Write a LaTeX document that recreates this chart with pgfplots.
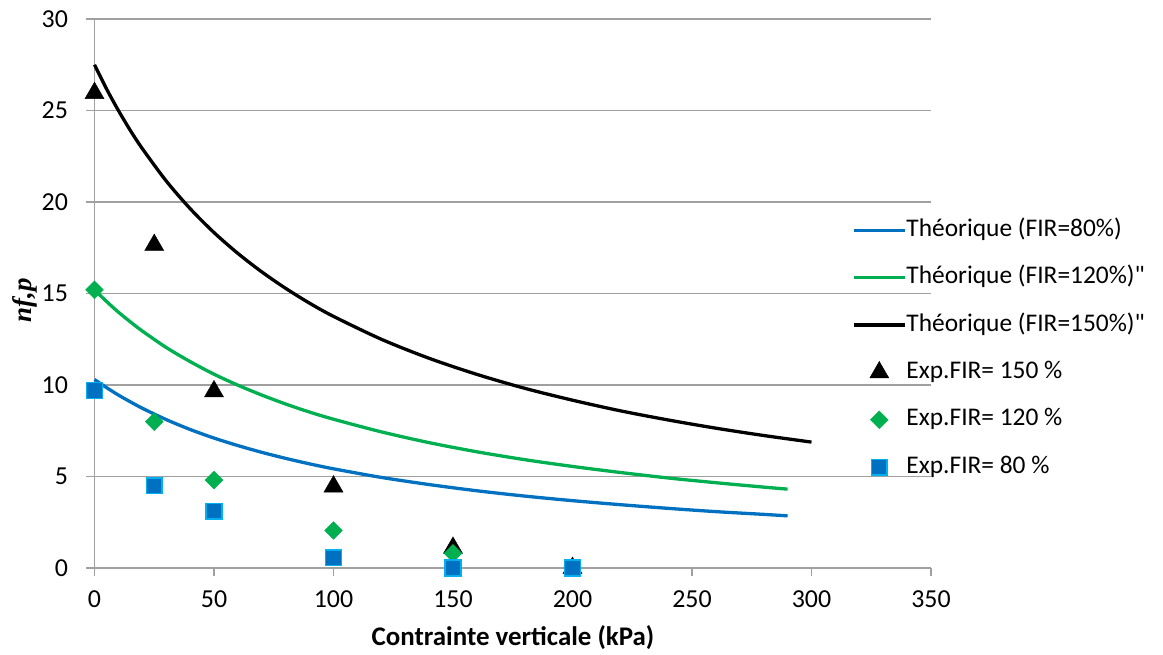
\documentclass[border=0pt]{standalone}
\usepackage{pgfplots}
\pgfplotsset{compat=1.18}
\usepackage{fontspec}
\setmainfont{Carlito}[Ligatures=TeXOff]
\newfontfamily\ylabfont{Liberation Serif}
\definecolor{cblue}{RGB}{0,112,192}
\definecolor{cgreen}{RGB}{0,176,80}
\definecolor{ccyan}{RGB}{0,176,240}
\definecolor{cgrid}{RGB}{160,160,160}
\pgfplotsset{
  lineleg/.style={legend image code/.code={\draw[##1] (0bp,0bp) -- (51bp,0bp);}},
  markleg/.style={legend image code/.code={\draw[mark repeat=1,mark phase=1,##1] plot coordinates {(25.5bp,0bp)};}},
}
\begin{document}
\begin{tikzpicture}
\path (0,0) rectangle (1163bp,655bp);
\begin{axis}[
  at={(94.5bp,87bp)}, anchor=south west,
  scale only axis, width=836.5bp, height=549bp,
  xmin=0, xmax=350, ymin=0, ymax=30,
  xtick={0,50,...,350}, ytick={0,5,...,30},
  axis x line=bottom, axis y line=left,
  x axis line style={-, draw=cgrid, line width=1.3bp},
  y axis line style={-, draw=cgrid, line width=1.3bp},
  ymajorgrids, grid style={draw=cgrid, line width=1.3bp},
  tick align=outside, major tick length=8bp,
  tick style={draw=cgrid, line width=1.3bp},
  ticklabel style={font=\fontsize{26}{30}\selectfont, text=black},
  yticklabel style={xshift=-15bp},
  xticklabel style={yshift=-11bp},
  /pgf/number format/assume math mode=true,
  clip=false,
  xlabel={\textbf{Contrainte verticale (kPa)}},
  every axis x label/.style={at={(axis description cs:0.5003,-0.1275)}, anchor=center, font=\fontsize{27}{32}\selectfont},
  ylabel={\ylabfont\bfseries\itshape nf,p},
  every axis y label/.style={at={(axis description cs:-0.083,0.488)}, rotate=90, anchor=center, font=\fontsize{27}{32}\selectfont},
  legend style={at={(axis description cs:0.9055,0.6375)}, anchor=north west, draw=none, fill=none,
    inner sep=0pt, row sep=23.4bp, font=\fontsize{25.5}{30}\selectfont,
    nodes={inner sep=0pt, text height=18bp, text depth=6bp},
    /tikz/every even column/.append style={column sep=7bp}},
  legend cell align=left,
]
\addplot[cblue, line width=3.3bp, smooth, lineleg] coordinates {
(0,10.3) (5,9.86) (10,9.45) (15,9.08) (20,8.73) (30,8.11) (40,7.57) (50,7.10) (60,6.69) (70,6.32) (80,5.99) (90,5.69) (100,5.42)
(120,4.95) (140,4.56) (160,4.22) (180,3.93) (200,3.68) (220,3.46) (240,3.26) (260,3.08) (280,2.93) (290,2.85)};
\addlegendentry{Théorique (FIR=80\%)}
\addplot[cgreen, line width=3.3bp, smooth, lineleg] coordinates {
(0,15.2) (5,14.57) (10,13.98) (15,13.45) (20,12.95) (30,12.05) (40,11.28) (50,10.59) (60,9.99) (70,9.45) (80,8.96) (90,8.52) (100,8.13)
(120,7.44) (140,6.85) (160,6.35) (180,5.92) (200,5.55) (220,5.22) (240,4.92) (260,4.66) (280,4.42) (290,4.31)};
\addlegendentry{Théorique (FIR=120\%)"}
\addplot[black, line width=3.3bp, smooth, lineleg] coordinates {
(0,27.5) (5,26.19) (10,25.0) (15,23.91) (20,22.92) (30,21.15) (40,19.64) (50,18.33) (60,17.19) (70,16.18) (80,15.28) (90,14.47) (100,13.75)
(120,12.5) (140,11.46) (160,10.58) (180,9.82) (200,9.17) (220,8.59) (240,8.09) (260,7.64) (280,7.24) (300,6.88)};
\addlegendentry{Théorique (FIR=150\%)"}
\addplot[only marks, mark=triangle*, mark size=11bp, draw=black, fill=black, markleg] coordinates {
(0,25.95) (25,17.65) (50,9.65) (100,4.45) (150,1.1) (200,0)};
\addlegendentry{Exp.FIR= 150 \%}
\addplot[only marks, mark=square*, mark size=6.3bp, mark options={rotate=45}, draw=cgreen, fill=cgreen, markleg] coordinates {
(0,15.2) (25,8.0) (50,4.8) (100,2.05) (150,0.8) (200,0)};
\addlegendentry{Exp.FIR= 120 \%}
\addplot[only marks, mark=square*, mark size=7.8bp, draw=ccyan, fill=cblue, line width=1.5bp, markleg] coordinates {
(0,9.7) (25,4.5) (50,3.1) (100,0.55) (150,0) (200,0)};
\addlegendentry{Exp.FIR= 80 \%}
\end{axis}
\end{tikzpicture}
\end{document}
